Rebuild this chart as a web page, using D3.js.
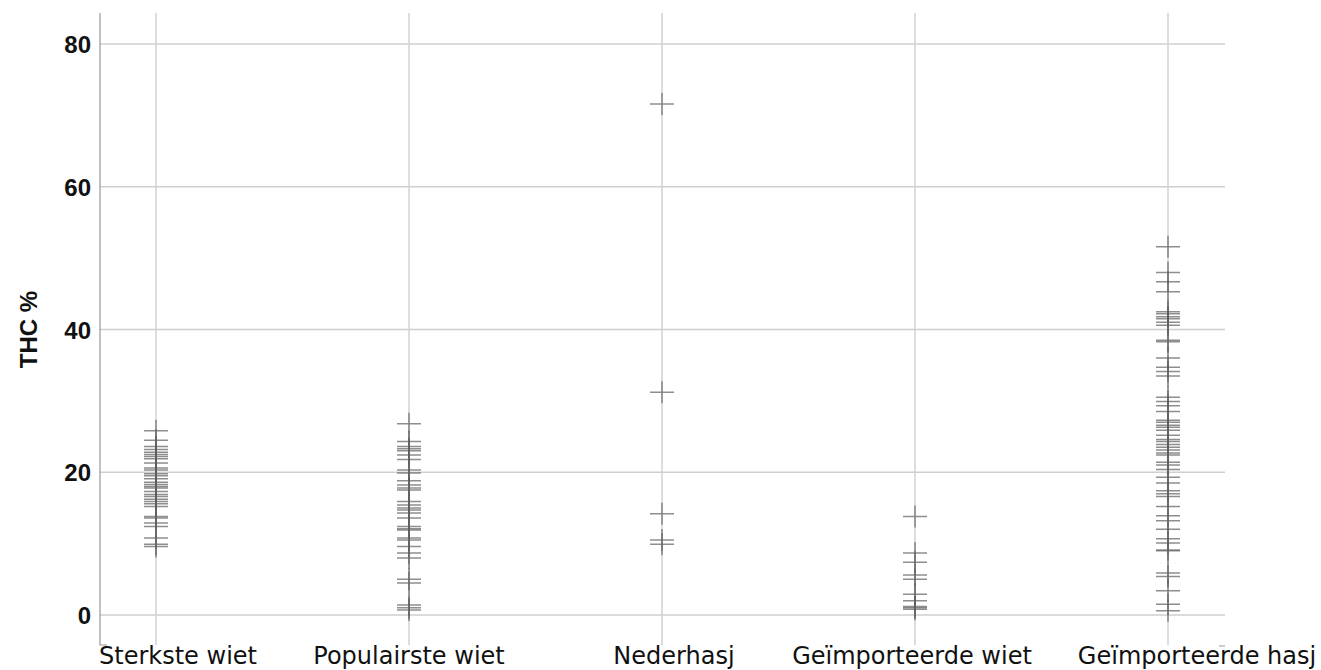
<!DOCTYPE html>
<html>
<head>
<meta charset="utf-8">
<script src="https://cdn.jsdelivr.net/npm/d3@7"></script>
<style>
  html, body { margin: 0; padding: 0; background: #fff; }
  svg { display: block; }
</style>
</head>
<body>
<svg id="chart" width="1321" height="670"></svg>
<script>
// ---- Data ----
const categories = ["Sterkste wiet", "Populairste wiet", "Nederhasj", "Geïmporteerde wiet", "Geïmporteerde hasj"];

const sterksteWiet = [25.8, 24.5, 23.6, 23.2, 22.8, 22.5, 22.2, 21.9, 21.3, 20.6, 20.3, 19.8, 19.5, 19.1,
  18.6, 18.3, 18.0, 17.8, 17.3, 16.9, 16.6, 16.2, 15.9, 15.6, 15.2, 13.8, 13.6, 12.9, 12.4, 10.8, 9.9, 9.6];

const populairsteWiet = [26.8, 24.3, 23.6, 23.3, 23.0, 22.4, 21.8, 20.3, 19.9, 18.8, 18.2, 17.8, 17.5,
  15.9, 15.4, 15.0, 14.7, 14.3, 13.6, 12.4, 12.1, 11.9, 10.8, 10.5, 9.6, 8.7, 8.0, 5.0, 4.5, 1.4, 1.0, 0.7];

const nederhasj = [71.6, 31.2, 14.2, 10.5, 9.9];

const geimporteerdeWiet = [13.8, 8.7, 7.4, 5.6, 5.0, 2.9, 2.0, 1.2, 1.0, 0.8];

const geimporteerdeHasj = [51.6, 48.0, 46.7, 45.3, 42.5, 42.2, 41.8, 41.5, 41.0, 40.6, 38.5, 38.3, 36.0,
  34.7, 34.1, 33.5, 30.5, 29.9, 29.3, 28.5, 27.3, 27.0, 26.6, 26.3, 25.9, 25.2, 24.6, 24.3, 23.9, 23.5,
  23.1, 22.7, 22.4, 21.4, 21.0, 20.4, 19.3, 18.5, 17.4, 17.0, 16.6, 15.2, 13.9, 13.2, 12.0, 10.7, 10.1,
  9.1, 9.0, 5.9, 5.4, 3.4, 1.5, 0.6];

const seriesValues = [sterksteWiet, populairsteWiet, nederhasj, geimporteerdeWiet, geimporteerdeHasj];
const yTicks = [0, 20, 40, 60, 80];
const yLabel = "THC %";

// ---- Layout ----
const svg = d3.select("#chart");
const plotLeft = 100, plotRight = 1225, plotTop = 13, plotBottom = 645;

const x = d3.scalePoint().domain(categories).range([156, 1168]);
const y = d3.scaleLinear().domain([0, 80]).range([615, 44]);

// horizontal gridlines
svg.append("g").selectAll("line").data(yTicks).join("line")
  .attr("x1", plotLeft).attr("x2", plotRight)
  .attr("y1", d => y(d)).attr("y2", d => y(d))
  .attr("stroke", "#cfcfcf").attr("stroke-width", 1.5);

// vertical gridlines
svg.append("g").selectAll("line").data(categories).join("line")
  .attr("x1", d => x(d)).attr("x2", d => x(d))
  .attr("y1", plotTop).attr("y2", plotBottom)
  .attr("stroke", "#d2d2d2").attr("stroke-width", 1.5);

// y axis line with bottom foot
svg.append("path")
  .attr("d", `M${plotLeft},${plotTop}V${plotBottom}H${plotLeft + 7}`)
  .attr("fill", "none").attr("stroke", "#999").attr("stroke-width", 1.2);

// small mark at the right end
svg.append("line")
  .attr("x1", plotRight - 6).attr("x2", plotRight).attr("y1", plotBottom + 1).attr("y2", plotBottom + 1)
  .attr("stroke", "#999").attr("stroke-width", 1);

// y tick labels
const yAxis = d3.axisLeft(y).tickValues(yTicks).tickSize(0).tickPadding(9);
const gy = svg.append("g").attr("transform", `translate(${plotLeft},0)`).call(yAxis);
gy.select(".domain").remove();
gy.selectAll("text")
  .attr("font-family", "'Liberation Sans', Arial, sans-serif")
  .attr("font-weight", "bold").attr("font-size", 24).attr("fill", "#111")
  .attr("dy", "0.36em");

// y axis title
svg.append("text")
  .attr("transform", `translate(37,${y(40)}) rotate(-90)`)
  .attr("text-anchor", "middle")
  .attr("font-family", "'Liberation Sans', Arial, sans-serif")
  .attr("font-weight", "bold").attr("font-size", 24).attr("fill", "#111")
  .text(yLabel);

// x category labels
const labelShift = [22, 0, 12, -3, 29];
svg.append("g").selectAll("text").data(categories).join("text")
  .attr("x", (d, i) => x(d) + labelShift[i])
  .attr("y", 664)
  .attr("text-anchor", "middle")
  .attr("font-family", "'DejaVu Sans', Verdana, sans-serif")
  .attr("font-size", 24).attr("fill", "#111")
  .text(d => d);

// markers (+)
const pts = [];
seriesValues.forEach((vals, i) => vals.forEach(v => pts.push({ c: categories[i], v })));
const mk = svg.append("g");
const hw = 12, hh = 11;
mk.selectAll("path").data(pts).join("path")
  .attr("d", d => {
    const cx = x(d.c), cy = y(d.v);
    return `M${cx - hw},${cy}H${cx + hw}M${cx},${cy - hh}V${cy + hh}`;
  })
  .attr("fill", "none").attr("stroke", "#5e5e5e").attr("stroke-opacity", 0.7)
  .attr("stroke-width", 1.5);
</script>
</body>
</html>
